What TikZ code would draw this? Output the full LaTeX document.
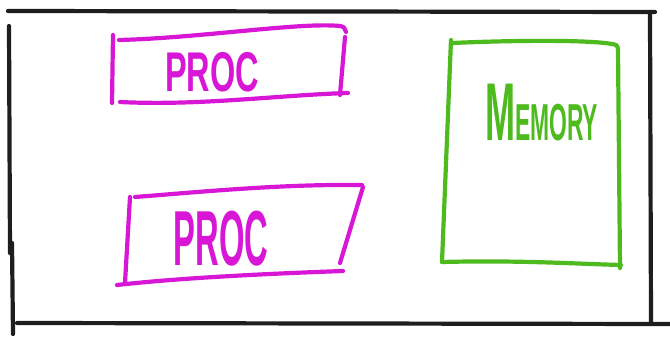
\documentclass[tikz,border=0pt]{standalone}
\usepackage{fontspec}
\setmainfont{Liberation Sans}
\definecolor{procmag}{HTML}{D816D6}
\definecolor{memgreen}{HTML}{4DBA1E}
\definecolor{inkblack}{HTML}{1E1E1E}
\tikzset{
  pen/.style={line width=4.2pt, line cap=round, line join=round},
  frameline/.style={pen, draw=inkblack},
  procline/.style={pen, draw=procmag},
  memline/.style={pen, draw=memgreen},
  proclabel/.style={text=procmag, inner sep=0pt, anchor=center},
  memlabel/.style={text=memgreen, inner sep=0pt, anchor=center}
}
\begin{document}
\begin{tikzpicture}[x=1pt,y=-1pt]
\useasboundingbox (0,0) rectangle (670,339);
% outer frame
\draw[frameline] (8,11) -- (655,12);
\draw[frameline] (650,12) -- (651,322);
\draw[frameline] (9,26) -- (10,253);
\draw[frameline] (12,243) -- (13,334);
\draw[frameline] (17,323) -- (670,324);
% processor 1
\draw[procline] (113,35) -- (112,103);
\draw[procline] (119,40) .. controls (200,38) and (300,22) .. (340,26) .. controls (344,27) .. (346,32);
\draw[procline] (345,37) -- (340,95);
\draw[procline] (120,102) .. controls (200,106) and (280,95) .. (348,93);
\node[proclabel, font=\fontsize{56}{56}\selectfont\bfseries, xscale=0.58] (p1) at (212,72) {PROC};
% processor 2
\draw[procline] (130,197) -- (125,283);
\draw[procline] (135,197) .. controls (200,192) and (280,184) .. (362,185);
\draw[procline] (363,187) -- (340,263);
\draw[procline] (117,285) .. controls (180,278) and (260,274) .. (343,271);
\node[proclabel, font=\fontsize{78}{78}\selectfont\bfseries, xscale=0.42] (p2) at (221,239) {PROC};
% memory
\draw[memline] (451,40) -- (442,262);
\draw[memline] (452,43) .. controls (520,40) and (590,40) .. (612,44) .. controls (617,45) .. (618,49);
\draw[memline] (618,49) -- (620,268);
\draw[memline] (442,262) .. controls (520,260) and (580,264) .. (621,265);
\node[memlabel, xscale=0.44, anchor=base west] (mem) at (485,141) {\bfseries\fontsize{82}{82}\selectfont M\fontsize{52}{52}\selectfont EMORY};
\end{tikzpicture}
\end{document}
